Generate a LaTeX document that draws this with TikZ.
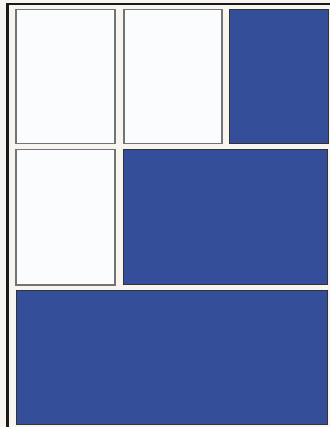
\documentclass[tikz,border=0pt]{standalone}
\usepackage{tikz}
\usetikzlibrary{positioning}

\definecolor{paper}{RGB}{248,244,240}
\definecolor{tileblue}{RGB}{52,78,154}
\definecolor{tilewhite}{RGB}{250,252,254}

\begin{document}
\begin{tikzpicture}[x=1pt, y=-1pt,
    tile/.style={rectangle, anchor=north west, inner sep=0pt, line width=1.5pt},
    blank/.style={tile, fill=tilewhite, draw=black!55},
    filled/.style={tile, fill=tileblue, draw=black!80, line width=0.9pt}]
    \fill[paper] (0,0) rectangle (330,427);
    \useasboundingbox (0,0) rectangle (330,427);
    \draw[black!90, line width=2.2pt] (7.5,427) -- (7.5,4) -- (330,4);
    % top row
    \node[blank, minimum width=99pt, minimum height=134pt] (a) at (15,9) {};
    \node[blank, minimum width=98pt, minimum height=134pt] (b) at (123,9) {};
    \node[filled, minimum width=99pt, minimum height=134pt] (c) at (229,9) {};
    % middle row
    \node[blank, minimum width=99pt, minimum height=135pt] (d) at (15,149) {};
    \node[filled, minimum width=204pt, minimum height=135pt] (e) at (123,149) {};
    % bottom row
    \node[filled, minimum width=311pt, minimum height=134pt] (f) at (16,290) {};
\end{tikzpicture}
\end{document}
